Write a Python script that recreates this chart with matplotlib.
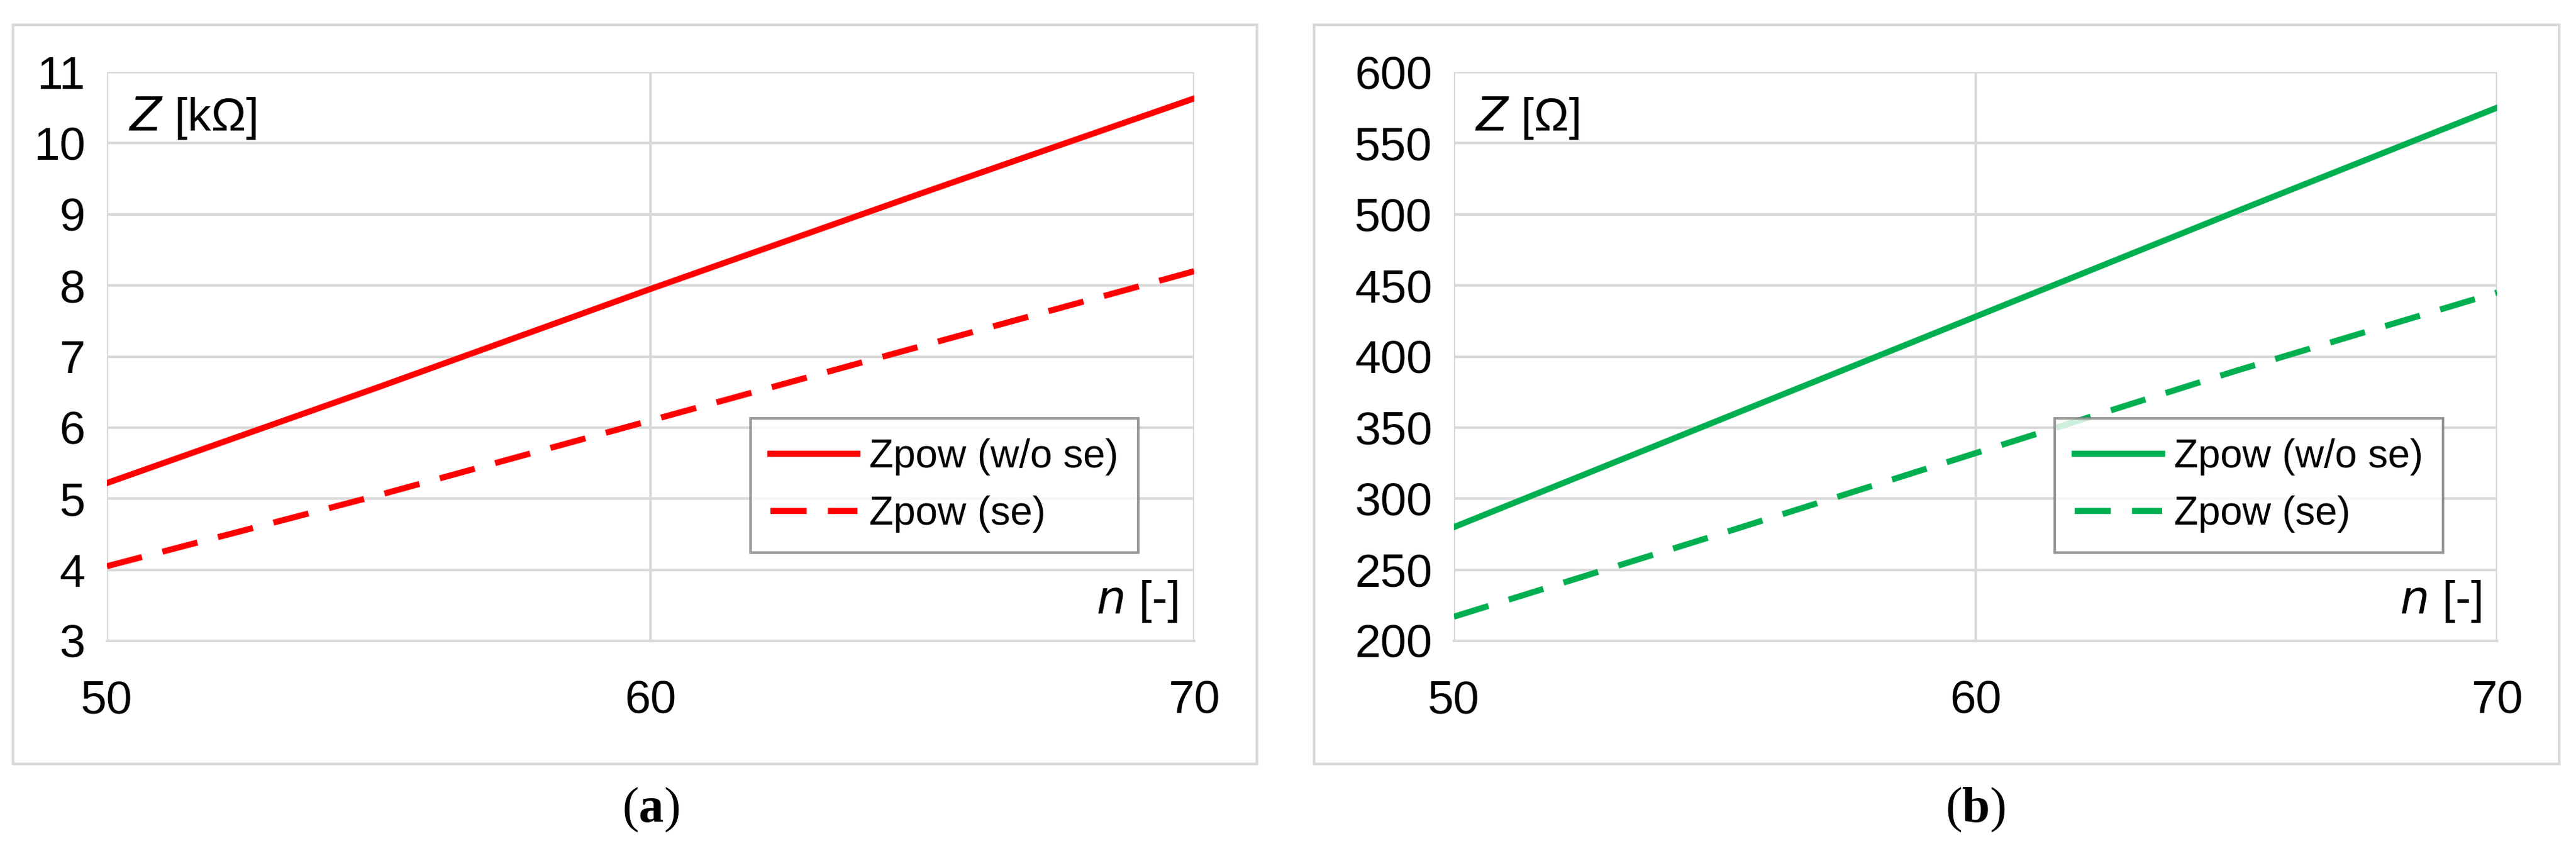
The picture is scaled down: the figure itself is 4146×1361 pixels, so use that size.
import matplotlib
matplotlib.use('Agg')
import matplotlib.pyplot as plt
from matplotlib.patches import Rectangle

plt.rcParams['font.family'] = ['Liberation Sans', 'DejaVu Sans']
plt.rcParams['mathtext.fontset'] = 'custom'
plt.rcParams['mathtext.bf'] = 'Liberation Serif:bold'
plt.rcParams['mathtext.rm'] = 'Liberation Serif'

# data
n = [50, 55, 60, 65, 70]
za_wo = [5.22, 6.57, 7.95, 9.30, 10.63]
za_se = [4.05, 5.05, 6.10, 7.15, 8.20]
zb_wo = [280, 354, 428, 502, 575]
zb_se = [217, 274, 332, 390, 445]

W, H = 4146, 1361
fig = plt.figure(figsize=(W / 100, H / 100), dpi=100, facecolor='white')

grid_c = '#d9d9d9'
fs = 54

def panel(rect, frame, y_wo, y_se, color, ylim, ystep, ylab, cap):
    # gray frame around each chart
    fig.patches.append(Rectangle((frame[0] / W, frame[1] / H), frame[2] / W, frame[3] / H,
                                 transform=fig.transFigure, fill=False,
                                 edgecolor=grid_c, linewidth=3))
    ax = fig.add_axes(rect)
    ax.plot(n, y_wo, color=color, lw=7, label='Zpow (w/o se)')
    ax.plot(n, y_se, color=color, lw=7, ls=(0, (6, 3.5)), label='Zpow (se)')
    ax.set_xlim(50, 70)
    ax.set_ylim(*ylim)
    ax.set_xticks([50, 60, 70])
    ax.set_yticks(range(ylim[0], ylim[1] + 1, ystep))
    ax.grid(True, color=grid_c, lw=3)
    ax.set_axisbelow(True)
    for s in ['top', 'right', 'left']:
        ax.spines[s].set_visible(False)
    ax.spines['bottom'].set_color(grid_c)
    ax.spines['bottom'].set_linewidth(3)
    ax.tick_params(length=0, labelsize=fs, colors='black')
    ax.tick_params(axis='x', pad=45)
    ax.tick_params(axis='y', pad=25)
    ax.text(0.02, 0.96, ylab, transform=ax.transAxes, fontsize=fs, va='top', ha='left')
    ax.text(0.985, 0.03, r'$\it{n}$ [-]', transform=ax.transAxes, fontsize=fs,
            va='bottom', ha='right')
    leg = ax.legend(loc='lower right', bbox_to_anchor=(0.967, 0.12), fontsize=46,
                    frameon=True, fancybox=False, handlelength=2.2, borderpad=0.5,
                    labelspacing=0.5, handletextpad=0.3)
    leg.get_frame().set_edgecolor('#7f7f7f')
    leg.get_frame().set_linewidth(3)
    fig.text(rect[0] + rect[2] / 2, 1 - 1303 / H, cap, fontsize=58, ha='center', va='center')
    return ax

panel([172 / W, 1 - 1031 / H, 1750 / W, 915 / H], (21, 1361 - 1229, 2002, 1189),
      za_wo, za_se, '#ff0000', (3, 11), 1, r'$\it{Z}$ [kΩ]', r'$\mathrm{(}\mathbf{a}\mathrm{)}$')
panel([2340 / W, 1 - 1031 / H, 1679 / W, 915 / H], (2115, 1361 - 1229, 2004, 1189),
      zb_wo, zb_se, '#00b050', (200, 600), 50, r'$\it{Z}$ [Ω]', r'$\mathrm{(}\mathbf{b}\mathrm{)}$')

fig.savefig('out.png', dpi=100)
